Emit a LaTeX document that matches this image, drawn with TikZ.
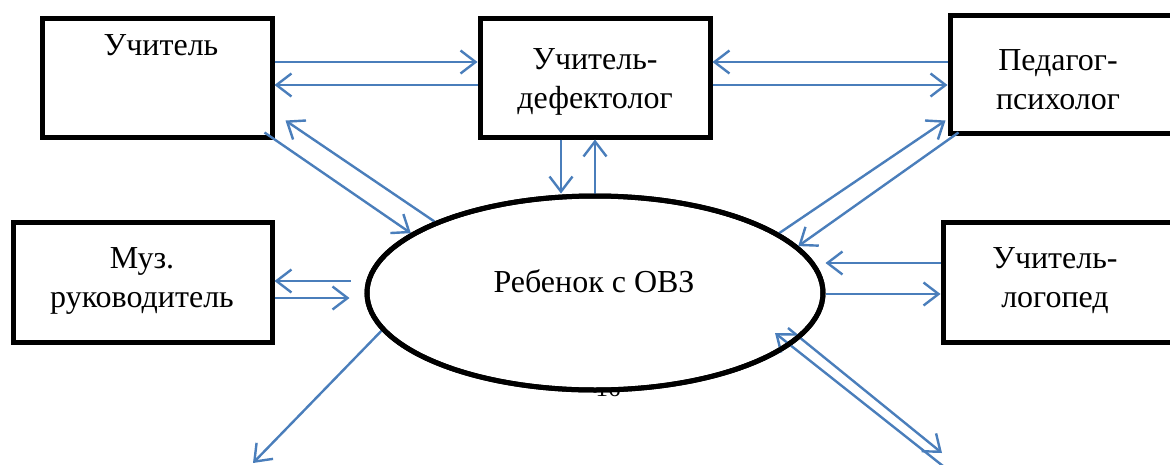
\documentclass[tikz,border=0pt]{standalone}
\usepackage{fontspec}
\setmainfont{Liberation Serif}
\usetikzlibrary{arrows.meta,calc,shapes.geometric}
\definecolor{arrblue}{RGB}{74,126,187}
\tikzset{
  box/.style={draw=black, line width=5pt, rectangle, inner sep=0pt, line join=miter},
  lbl/.style={font=\fontsize{32}{39}\selectfont, align=center, inner sep=0pt},
  pagenum/.style={font=\fontsize{25}{28}\selectfont, inner sep=0pt},
  oval/.style={ellipse, draw=black, fill=white, line width=5pt, inner sep=0pt, minimum width=456pt, minimum height=194pt},
  ovalline/.style={draw=black, line width=5pt},
  arr/.style={draw=arrblue, line width=2.4pt, -{Straight Barb[length=15pt,width=23pt,line width=2.4pt]}},
}
\begin{document}
\begin{tikzpicture}[x=1pt,y=-1pt]
\path[use as bounding box] (0,0) rectangle (1170,464);
\clip (0,0) rectangle (1170,464);

% boxes
\node[box, minimum width=230pt, minimum height=119pt] (uch) at (157,77.5) {};
\node[box, minimum width=230pt, minimum height=119pt] (def) at (595,77.5) {};
\node[box, minimum width=232pt, minimum height=118pt] (ped) at (1066,74) {};
\node[box, minimum width=259pt, minimum height=120pt] (muz) at (142.5,282) {};
\node[box, minimum width=237pt, minimum height=120pt] (log) at (1061.5,282) {};

% labels
\node[lbl] (tuch) at (161,45) {Учитель};
\node[lbl] (tdef) at (595,82) {Учитель-\\дефектолог};
\node[lbl] (tped) at (1058,80) {Педагог-\\психолог};
\node[lbl] (tmuz) at (142,281) {Муз.\\руководитель};
\node[lbl] (tlog) at (1055,281) {Учитель-\\логопед};

% page number behind the oval
\node[pagenum] (pn) at (608,388) {16};

% central oval
\node[oval] (child) at (595,293) {};
\node[lbl] (tchild) at (594,281) {Ребенок с ОВЗ};

% free ends
\coordinate (bl) at (253,463);
\coordinate (br1) at (942,453);
\coordinate (br2) at (943,466);

% horizontal pairs
\draw[arr] (uch.east |- 0,62) -- (def.west |- 0,62);
\draw[arr] (def.west |- 0,85) -- (uch.east |- 0,85);
\draw[arr] (ped.west |- 0,62) -- (def.east |- 0,62);
\draw[arr] (def.east |- 0,85) -- (ped.west |- 0,85);
\draw[arr] (log.west |- 0,263) -- (child.east |- 0,263);
\draw[arr] (child.east |- 0,294) -- (log.west |- 0,294);
\draw[arr] (muz.east |- 0,298) -- ($(child.west |- 0,298)+(-15,0)$);
\draw[arr] ($(child.west |- 0,281)+(-14,0)$) -- (muz.east |- 0,281);

% vertical pair
\draw[arr] (def.south -| 561,0) -- (child.north -| 561,0);
\draw[arr] (child.north) -- (def.south);

% diagonals
\draw[arr] ($(uch.south east)+(-10,-7)$) -- (child.162.5);
\draw[arr] (child.156) -- ($(uch.south east)+(11,-19)$);
\draw[arr] (child.18.7) -- ($(ped.south west)+(-2,-15)$);
\draw[arr] ($(ped.south west)+(11,-3)$) -- (child.13.4);
\draw[arr] (child.190.9) -- (bl);
\draw[arr] ($(child.center)+(193,35)$) -- (br1);
\draw[arr] (br2) -- ($(child.center)+(180,40)$);

% oval border on top
\draw[ovalline] (child.center) ellipse [x radius=228pt, y radius=97pt];
\end{tikzpicture}
\end{document}
